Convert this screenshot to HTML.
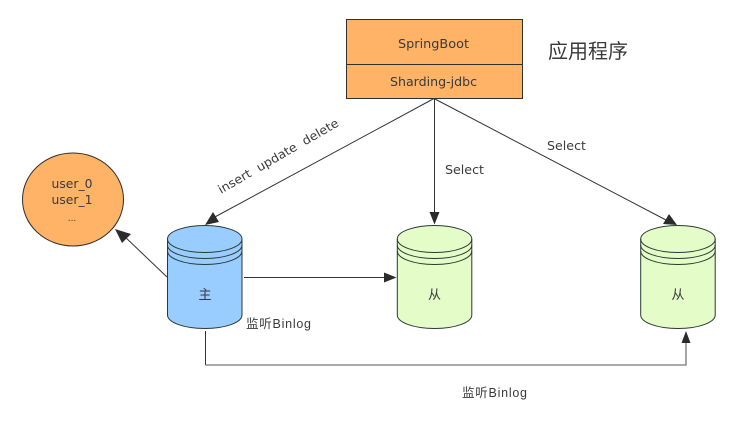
<!DOCTYPE html>
<html><head><meta charset="utf-8"><style>
html,body{margin:0;padding:0;background:#fff}
svg{display:block}
text{font-family:"Liberation Sans","Noto Sans CJK SC",sans-serif;font-size:12.5px;fill:#3a3a3a}
.d{font-family:"DejaVu Sans","Noto Sans CJK SC",sans-serif;font-size:12px}
</style></head><body>
<svg width="743" height="425" viewBox="0 0 743 425" xmlns="http://www.w3.org/2000/svg">
<defs>
<g id="cyl-lines" fill="none" stroke="#2b3a33" stroke-width="1">
<path d="M0 13.5V89.5C0 97 16.7 103 37.3 103S74.5 97 74.5 89.5V13.5"/>
<ellipse cx="37.25" cy="13.5" rx="37.25" ry="13.5"/>
<path d="M0 19.5C0 27 16.7 33 37.3 33S74.5 27 74.5 19.5"/>
<path d="M0 25.5C0 33 16.7 39 37.3 39S74.5 33 74.5 25.5"/>
</g>
</defs>
<rect x="346.5" y="19.5" width="176" height="79" fill="#ffb366" stroke="#33302b"/>
<line x1="346.5" y1="64.5" x2="522.5" y2="64.5" stroke="#33302b"/>
<text class="d" x="398" y="48" textLength="71" lengthAdjust="spacingAndGlyphs">SpringBoot</text>
<text class="d" x="390" y="86" textLength="87" lengthAdjust="spacingAndGlyphs">Sharding-jdbc</text>
<text x="548" y="58" style="font-size:20px" textLength="80">应用程序</text>

<ellipse cx="73" cy="199.5" rx="50.5" ry="46.5" fill="#ffb366" stroke="#33302b"/>
<text class="d" x="72" y="188" text-anchor="middle" textLength="41" lengthAdjust="spacingAndGlyphs">user_0</text>
<text class="d" x="72" y="204" text-anchor="middle" textLength="41" lengthAdjust="spacingAndGlyphs">user_1</text>
<text class="d" x="72" y="221" text-anchor="middle" style="font-size:9px">...</text>

<g transform="translate(167.5,225.5)"><path d="M0 13.5C0 6 16.7 0 37.3 0S74.5 6 74.5 13.5V89.5C74.5 97 58 103 37.3 103S0 97 0 89.5Z" fill="#99ccff"/><use href="#cyl-lines"/></g>
<g transform="translate(397.3,225.5)"><path d="M0 13.5C0 6 16.7 0 37.3 0S74.5 6 74.5 13.5V89.5C74.5 97 58 103 37.3 103S0 97 0 89.5Z" fill="#e3fcc8"/><use href="#cyl-lines"/></g>
<g transform="translate(640.7,225.5)"><path d="M0 13.5C0 6 16.7 0 37.3 0S74.5 6 74.5 13.5V89.5C74.5 97 58 103 37.3 103S0 97 0 89.5Z" fill="#e3fcc8"/><use href="#cyl-lines"/></g>
<text x="205" y="299" text-anchor="middle" style="font-size:13px">主</text>
<text x="434.5" y="299" text-anchor="middle" style="font-size:13px">从</text>
<text x="678" y="299" text-anchor="middle" style="font-size:13px">从</text>

<g fill="none" stroke="#333" stroke-width="1">
<line x1="434" y1="98.5" x2="213" y2="218"/>
<line x1="434.5" y1="98.5" x2="434.5" y2="214"/>
<line x1="434" y1="98.5" x2="666" y2="220"/>
<line x1="167" y1="277" x2="124" y2="236"/>
<line x1="244" y1="277.5" x2="388" y2="277.5"/>
<line x1="205.5" y1="331" x2="205.5" y2="365"/>
<path d="M205.5 365H686V342" stroke="#777" stroke-width="1.3"/>
</g>
<g fill="#2b2b2b">
<polygon points="205,225 213,212 219,222"/>
<polygon points="434.5,224.5 429.5,212 439.5,212"/>
<polygon points="677,225 663,224 669,214"/>
<polygon points="115,229 131,234 122,243"/>
<polygon points="396.5,277.5 384,272.5 384,282.5"/>
<polygon points="686,331 681.5,343 690.5,343"/>
</g>

<text class="d" transform="translate(221,194) rotate(-30)" x="0" y="0" textLength="137" lengthAdjust="spacingAndGlyphs" style="font-size:12px">insert&#160;&#160;update&#160;&#160;delete</text>
<text class="d" x="445" y="174" textLength="39" lengthAdjust="spacingAndGlyphs">Select</text>
<text class="d" x="547" y="150" textLength="39" lengthAdjust="spacingAndGlyphs">Select</text>
<text x="246" y="328" style="font-size:12.5px" textLength="65">监听Binlog</text>
<text x="462" y="397" style="font-size:12.5px" textLength="65">监听Binlog</text>
</svg>
</body></html>
